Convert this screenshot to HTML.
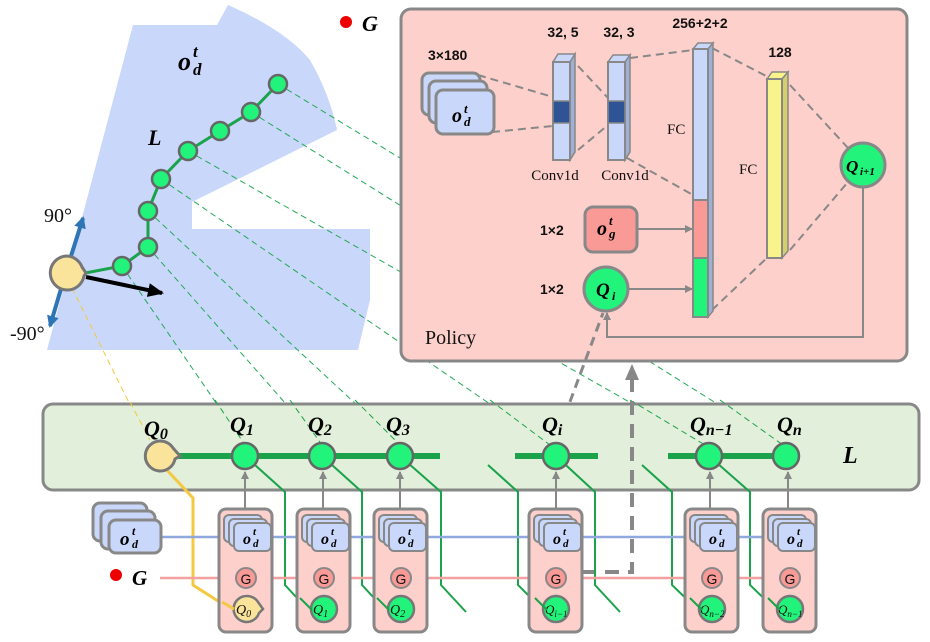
<!DOCTYPE html>
<html><head><meta charset="utf-8"><style>
html,body{margin:0;padding:0;background:#fff;}
svg{display:block;}
.m{font-family:"Liberation Serif",serif;font-style:italic;font-weight:bold;fill:#000;}
.s{font-family:"Liberation Sans",sans-serif;fill:#111;}
.r{font-family:"Liberation Serif",serif;fill:#111;}
</style></head><body>
<svg width="930" height="642" viewBox="0 0 930 642" xmlns="http://www.w3.org/2000/svg">
<defs>
<marker id="ag" markerWidth="8" markerHeight="8" refX="7" refY="4" orient="auto" markerUnits="userSpaceOnUse"><path d="M0,0 L8,4 L0,8 z" fill="#888"/></marker>
<marker id="ab" markerWidth="16" markerHeight="14" refX="14" refY="7" orient="auto" markerUnits="userSpaceOnUse"><path d="M0,0 L16,7 L0,14 z" fill="#000"/></marker>
<marker id="abl" markerWidth="12" markerHeight="12" refX="10" refY="6" orient="auto" markerUnits="userSpaceOnUse"><path d="M0,0 L12,6 L0,12 z" fill="#2e75b6"/></marker>
</defs>

<path d="M133,25 L217,25 L228,5 Q285,30 310,60 Q330,95 337,130 L192,202 L192,229 L370,229 L370,300 L358,350 L47,350 Z" fill="#c9d7fa"/>

<g stroke="#22aa55" stroke-width="1" stroke-dasharray="6,4" fill="none">
<line x1="122" y1="266" x2="245" y2="445"/>
<line x1="148" y1="247" x2="322" y2="445"/>
<line x1="148" y1="211" x2="400" y2="445"/>
<line x1="161" y1="179" x2="550" y2="445"/>
<line x1="188" y1="151" x2="705" y2="445"/>
<line x1="251" y1="112" x2="783" y2="445"/>
<line x1="278" y1="84" x2="700" y2="340"/>
</g>
<line x1="72" y1="288" x2="150" y2="445" stroke="#f5c842" stroke-width="1" stroke-dasharray="6,4"/>

<polyline points="80,274 122,266 148,247 148,211 161,179 188,151 220,131 251,112 278,84" fill="none" stroke="#1aa34a" stroke-width="3"/>
<g fill="#22f37a" stroke="#666" stroke-width="2.5">
<circle cx="122" cy="266" r="9"/><circle cx="148" cy="247" r="9"/><circle cx="148" cy="211" r="9"/><circle cx="161" cy="179" r="9"/><circle cx="188" cy="151" r="9"/><circle cx="220" cy="131" r="9"/><circle cx="251" cy="112" r="9"/><circle cx="278" cy="84" r="9"/>
</g>
<line x1="66" y1="272" x2="83" y2="218" stroke="#2e75b6" stroke-width="4" marker-end="url(#abl)"/>
<line x1="66" y1="272" x2="50" y2="326" stroke="#2e75b6" stroke-width="4" marker-end="url(#abl)"/>
<path d="M66,256 A17,17 0 1 0 84,276 L86,273 L82,267 A17,17 0 0 0 66,256 Z" fill="#fae39a" stroke="#777" stroke-width="3"/>
<line x1="86" y1="277" x2="162" y2="293" stroke="#000" stroke-width="4" marker-end="url(#ab)"/>
<text x="44" y="222" class="r" font-size="20">90°</text>
<text x="10" y="340" class="r" font-size="20">-90°</text>
<text x="178" y="70" class="m" font-size="26">o</text><text x="193" y="57" class="m" font-size="17">t</text><text x="193" y="75" class="m" font-size="17">d</text>
<text x="148" y="145" class="m" font-size="22">L</text>
<circle cx="346" cy="22" r="6" fill="#e00"/>
<text x="362" y="31" class="m" font-size="22">G</text>

<rect x="401" y="9" width="506" height="352" rx="10" fill="#fdd0cb" stroke="#888" stroke-width="3"/>
<g stroke="#888" stroke-width="2" stroke-dasharray="8,5" fill="none">
<line x1="478" y1="75" x2="553" y2="97"/><line x1="492" y1="132" x2="553" y2="126"/>
<line x1="578" y1="66" x2="608" y2="98"/><line x1="578" y1="150" x2="608" y2="125"/>
<line x1="630" y1="58" x2="693" y2="50"/><line x1="627" y1="158" x2="693" y2="195"/>
<line x1="712" y1="48" x2="770" y2="78"/><line x1="712" y1="310" x2="770" y2="255"/>
<line x1="790" y1="85" x2="848" y2="148"/><line x1="790" y1="250" x2="848" y2="182"/>
</g>
<text x="428" y="60" class="s" font-size="14" font-weight="bold" fill="#222">3×180</text>
<rect x="422" y="73" width="58" height="42" rx="7" fill="#c9d7fa" stroke="#888" stroke-width="3"/>
<rect x="429" y="81" width="58" height="42" rx="7" fill="#c9d7fa" stroke="#888" stroke-width="3"/>
<rect x="436" y="90" width="58" height="44" rx="7" fill="#c9d7fa" stroke="#888" stroke-width="3"/>
<text x="452" y="122" class="m" font-size="20">o</text><text x="464" y="113" class="m" font-size="13">t</text><text x="464" y="126" class="m" font-size="13">d</text>
<path d="M553,62 L558,54 L575,54 L570,62 Z" fill="#c9d7fa" stroke="#888" stroke-width="1.5"/>
<path d="M570,62 L575,54 L575,152 L570,160 Z" fill="#9fb0d6" stroke="#888" stroke-width="1.5"/>
<rect x="553" y="62" width="17" height="98" fill="#c9d7fa" stroke="#888" stroke-width="2"/>
<rect x="553" y="101" width="17" height="22" fill="#2f5496" stroke="#888" stroke-width="1.5"/>
<text x="563" y="37" class="s" font-size="14" font-weight="bold" text-anchor="middle">32, 5</text>
<text x="555" y="180" class="r" font-size="15" text-anchor="middle">Conv1d</text>
<path d="M608,62 L613,55 L630,55 L625,62 Z" fill="#c9d7fa" stroke="#888" stroke-width="1.5"/>
<path d="M625,62 L630,55 L630,152 L625,160 Z" fill="#9fb0d6" stroke="#888" stroke-width="1.5"/>
<rect x="608" y="62" width="17" height="98" fill="#c9d7fa" stroke="#888" stroke-width="2"/>
<rect x="608" y="101" width="17" height="22" fill="#2f5496" stroke="#888" stroke-width="1.5"/>
<text x="619" y="37" class="s" font-size="14" font-weight="bold" text-anchor="middle">32, 3</text>
<text x="625" y="180" class="r" font-size="15" text-anchor="middle">Conv1d</text>
<path d="M693,49 L698,43 L713,43 L708,49 Z" fill="#c9d7fa" stroke="#888" stroke-width="1.5"/>
<path d="M708,49 L713,43 L713,311 L708,317 Z" fill="#9fb0d6" stroke="#888" stroke-width="1.5"/>
<rect x="693" y="49" width="15" height="151" fill="#c9d7fa" stroke="#888" stroke-width="2"/>
<rect x="693" y="200" width="15" height="58" fill="#f99a96" stroke="#888" stroke-width="2"/>
<rect x="693" y="258" width="15" height="59" fill="#22f37a" stroke="#888" stroke-width="2"/>
<text x="700" y="28" class="s" font-size="14" font-weight="bold" text-anchor="middle">256+2+2</text>
<text x="667" y="134" class="r" font-size="15">FC</text>
<path d="M767,79 L772,72 L788,72 L782,79 Z" fill="#f8f38a" stroke="#888" stroke-width="1.5"/>
<path d="M782,79 L788,72 L788,251 L782,258 Z" fill="#d4cf6a" stroke="#888" stroke-width="1.5"/>
<rect x="767" y="79" width="15" height="179" fill="#f8f38a" stroke="#888" stroke-width="2"/>
<text x="780" y="57" class="s" font-size="14" font-weight="bold" text-anchor="middle">128</text>
<text x="739" y="174" class="r" font-size="15">FC</text>
<text x="540" y="235" class="s" font-size="14" font-weight="bold">1×2</text>
<rect x="585" y="207" width="52" height="45" rx="8" fill="#f99a96" stroke="#888" stroke-width="3"/>
<text x="597" y="235" class="m" font-size="20">o</text><text x="609" y="225" class="m" font-size="13">t</text><text x="609" y="238" class="m" font-size="13">g</text>
<line x1="637" y1="229" x2="692" y2="229" stroke="#888" stroke-width="2" marker-end="url(#ag)"/>
<text x="540" y="294" class="s" font-size="14" font-weight="bold">1×2</text>
<circle cx="606" cy="289" r="22" fill="#22f37a" stroke="#888" stroke-width="3"/>
<text x="596" y="296" class="m" font-size="19">Q</text><text x="612" y="300" class="m" font-size="12">i</text>
<line x1="628" y1="289" x2="692" y2="289" stroke="#888" stroke-width="2" marker-end="url(#ag)"/>
<circle cx="863" cy="165" r="22" fill="#22f37a" stroke="#888" stroke-width="3"/>
<text x="846" y="172" class="m" font-size="17">Q</text><text x="860" y="175" class="m" font-size="11">i+1</text>
<polyline points="863,187 863,337 607,337 607,313" fill="none" stroke="#888" stroke-width="2" marker-end="url(#ag)"/>
<text x="425" y="344" class="r" font-size="20">Policy</text>

<line x1="549" y1="458" x2="603" y2="313" stroke="#888" stroke-width="3" stroke-dasharray="9,6"/>

<rect x="43" y="404" width="876" height="86" rx="10" fill="#e2efda" stroke="#888" stroke-width="3"/>
<g stroke="#1aa34a" stroke-width="1" stroke-dasharray="6,4"><line x1="215" y1="400" x2="245" y2="445"/><line x1="290" y1="400" x2="322" y2="445"/><line x1="355" y1="400" x2="400" y2="445"/><line x1="490" y1="400" x2="550" y2="445"/><line x1="630" y1="400" x2="705" y2="445"/><line x1="720" y1="400" x2="783" y2="445"/></g>
<line x1="130" y1="402" x2="150" y2="440" stroke="#f5c842" stroke-width="1" stroke-dasharray="6,4"/>
<g stroke="#1aa34a" stroke-width="6"><line x1="175" y1="456" x2="440" y2="456"/><line x1="515" y1="456" x2="598" y2="456"/><line x1="668" y1="456" x2="795" y2="456"/></g>
<polyline points="582,572 632,572 632,380" fill="none" stroke="#888" stroke-width="4" stroke-dasharray="14,9"/>
<path d="M625,380 L632,364 L639,380 Z" fill="#888"/>

<g fill="none" stroke="#1aa34a" stroke-width="2">
<polyline points="245,456 285,492 285,585 310,612"/>
<polyline points="322,456 362,492 362,585 387,612"/>
<polyline points="400,456 441,492 441,585 466,612"/>
<polyline points="488,465 518,492 518,585 545,612"/>
<polyline points="556,456 595,492 595,585 620,612"/>
<polyline points="642,465 672,492 672,585 700,612"/>
<polyline points="709,456 750,492 750,585 778,612"/>
</g>
<polyline points="165,468 193,498 193,585 232,610" fill="none" stroke="#f5c842" stroke-width="3"/>

<line x1="160" y1="537" x2="770" y2="537" stroke="#8fa8de" stroke-width="2.5"/>
<line x1="160" y1="578" x2="770" y2="578" stroke="#f5a0a0" stroke-width="2.5"/>

<path d="M160,441 A15,15 0 1 0 175,459 L180,456 L173,448 A15,15 0 0 0 160,441 Z" fill="#fae39a" stroke="#777" stroke-width="3"/>
<g fill="#22f37a" stroke="#666" stroke-width="2.5">
<circle cx="245" cy="456" r="13"/><circle cx="322" cy="456" r="13"/><circle cx="400" cy="456" r="13"/><circle cx="556" cy="456" r="13"/><circle cx="709" cy="456" r="13"/><circle cx="786" cy="456" r="13"/>
</g>
<g class="m" font-size="22">
<text x="144" y="436">Q<tspan font-size="16" dy="3">0</tspan></text>
<text x="230" y="432">Q<tspan font-size="16" dy="3">1</tspan></text>
<text x="308" y="432">Q<tspan font-size="16" dy="3">2</tspan></text>
<text x="386" y="432">Q<tspan font-size="16" dy="3">3</tspan></text>
<text x="542" y="432">Q<tspan font-size="16" dy="3">i</tspan></text>
<text x="690" y="432">Q<tspan font-size="16" dy="3">n−1</tspan></text>
<text x="777" y="432">Q<tspan font-size="16" dy="3">n</tspan></text>
</g>
<text x="843" y="463" class="m" font-size="24">L</text>

<rect x="93" y="503" width="54" height="38" rx="7" fill="#c9d7fa" stroke="#888" stroke-width="3"/>
<rect x="101" y="511" width="54" height="38" rx="7" fill="#c9d7fa" stroke="#888" stroke-width="3"/>
<rect x="109" y="520" width="52" height="33" rx="7" fill="#c9d7fa" stroke="#888" stroke-width="3"/>
<text x="120" y="545" class="m" font-size="19">o</text><text x="132" y="535" class="m" font-size="12">t</text><text x="132" y="548" class="m" font-size="12">d</text>
<circle cx="116" cy="575" r="6" fill="#e00"/>
<text x="132" y="585" class="m" font-size="21">G</text>

<g stroke="#888" stroke-width="2" fill="none">
<line x1="245" y1="509" x2="245" y2="472" marker-end="url(#ag)"/>
<line x1="323" y1="509" x2="323" y2="472" marker-end="url(#ag)"/>
<line x1="400" y1="509" x2="400" y2="472" marker-end="url(#ag)"/>
<line x1="556" y1="509" x2="556" y2="472" marker-end="url(#ag)"/>
<line x1="710" y1="509" x2="710" y2="472" marker-end="url(#ag)"/>
<line x1="788" y1="509" x2="788" y2="472" marker-end="url(#ag)"/>
</g>

<rect x="219" y="509" width="53" height="123" rx="7" fill="#fdd0cb" stroke="#888" stroke-width="3"/>
<rect x="224" y="515" width="38" height="27" rx="5" fill="#c9d7fa" stroke="#888" stroke-width="2"/>
<rect x="229" y="519" width="38" height="27" rx="5" fill="#c9d7fa" stroke="#888" stroke-width="2"/>
<rect x="234" y="523" width="37" height="28" rx="5" fill="#c9d7fa" stroke="#888" stroke-width="2"/>
<text x="243" y="544" class="m" font-size="16">o</text><text x="253" y="535" class="m" font-size="11">t</text><text x="253" y="547" class="m" font-size="11">d</text>
<circle cx="246" cy="578" r="10" fill="#f99a96" stroke="#888" stroke-width="2"/><text x="246" y="584" class="s" font-size="14" text-anchor="middle">G</text>
<path d="M246,596 A13,13 0 1 0 259,613 L263,609 L258,602 A13,13 0 0 0 246,596 Z" fill="#fae39a" stroke="#777" stroke-width="2.5"/>
<text x="236" y="614" class="r" font-style="italic" font-size="14">Q<tspan font-size="10" dy="3">0</tspan></text>

<rect x="297" y="509" width="53" height="123" rx="7" fill="#fdd0cb" stroke="#888" stroke-width="3"/>
<rect x="302" y="515" width="38" height="27" rx="5" fill="#c9d7fa" stroke="#888" stroke-width="2"/>
<rect x="307" y="519" width="38" height="27" rx="5" fill="#c9d7fa" stroke="#888" stroke-width="2"/>
<rect x="312" y="523" width="37" height="28" rx="5" fill="#c9d7fa" stroke="#888" stroke-width="2"/>
<text x="321" y="544" class="m" font-size="16">o</text><text x="331" y="535" class="m" font-size="11">t</text><text x="331" y="547" class="m" font-size="11">d</text>
<circle cx="324" cy="578" r="10" fill="#f99a96" stroke="#888" stroke-width="2"/><text x="324" y="584" class="s" font-size="14" text-anchor="middle">G</text>
<circle cx="324" cy="609" r="13" fill="#22f37a" stroke="#777" stroke-width="2.5"/>
<text x="313" y="614" class="r" font-style="italic" font-size="14">Q<tspan font-size="10" dy="3">1</tspan></text>

<rect x="374" y="509" width="53" height="123" rx="7" fill="#fdd0cb" stroke="#888" stroke-width="3"/>
<rect x="379" y="515" width="38" height="27" rx="5" fill="#c9d7fa" stroke="#888" stroke-width="2"/>
<rect x="384" y="519" width="38" height="27" rx="5" fill="#c9d7fa" stroke="#888" stroke-width="2"/>
<rect x="389" y="523" width="37" height="28" rx="5" fill="#c9d7fa" stroke="#888" stroke-width="2"/>
<text x="398" y="544" class="m" font-size="16">o</text><text x="408" y="535" class="m" font-size="11">t</text><text x="408" y="547" class="m" font-size="11">d</text>
<circle cx="401" cy="578" r="10" fill="#f99a96" stroke="#888" stroke-width="2"/><text x="401" y="584" class="s" font-size="14" text-anchor="middle">G</text>
<circle cx="401" cy="609" r="13" fill="#22f37a" stroke="#777" stroke-width="2.5"/>
<text x="390" y="614" class="r" font-style="italic" font-size="14">Q<tspan font-size="10" dy="3">2</tspan></text>

<rect x="529" y="509" width="53" height="123" rx="7" fill="#fdd0cb" stroke="#888" stroke-width="3"/>
<rect x="534" y="515" width="38" height="27" rx="5" fill="#c9d7fa" stroke="#888" stroke-width="2"/>
<rect x="539" y="519" width="38" height="27" rx="5" fill="#c9d7fa" stroke="#888" stroke-width="2"/>
<rect x="544" y="523" width="37" height="28" rx="5" fill="#c9d7fa" stroke="#888" stroke-width="2"/>
<text x="553" y="544" class="m" font-size="16">o</text><text x="563" y="535" class="m" font-size="11">t</text><text x="563" y="547" class="m" font-size="11">d</text>
<circle cx="556" cy="578" r="10" fill="#f99a96" stroke="#888" stroke-width="2"/><text x="556" y="584" class="s" font-size="14" text-anchor="middle">G</text>
<circle cx="556" cy="609" r="13" fill="#22f37a" stroke="#777" stroke-width="2.5"/>
<text x="545" y="614" class="r" font-style="italic" font-size="13">Q<tspan font-size="9" dy="3">i−1</tspan></text>

<rect x="685" y="509" width="53" height="123" rx="7" fill="#fdd0cb" stroke="#888" stroke-width="3"/>
<rect x="690" y="515" width="38" height="27" rx="5" fill="#c9d7fa" stroke="#888" stroke-width="2"/>
<rect x="695" y="519" width="38" height="27" rx="5" fill="#c9d7fa" stroke="#888" stroke-width="2"/>
<rect x="700" y="523" width="37" height="28" rx="5" fill="#c9d7fa" stroke="#888" stroke-width="2"/>
<text x="709" y="544" class="m" font-size="16">o</text><text x="719" y="535" class="m" font-size="11">t</text><text x="719" y="547" class="m" font-size="11">d</text>
<circle cx="712" cy="578" r="10" fill="#f99a96" stroke="#888" stroke-width="2"/><text x="712" y="584" class="s" font-size="14" text-anchor="middle">G</text>
<circle cx="712" cy="609" r="13" fill="#22f37a" stroke="#777" stroke-width="2.5"/>
<text x="700" y="614" class="r" font-style="italic" font-size="13">Q<tspan font-size="9" dy="3">n−2</tspan></text>

<rect x="763" y="509" width="53" height="123" rx="7" fill="#fdd0cb" stroke="#888" stroke-width="3"/>
<rect x="768" y="515" width="38" height="27" rx="5" fill="#c9d7fa" stroke="#888" stroke-width="2"/>
<rect x="773" y="519" width="38" height="27" rx="5" fill="#c9d7fa" stroke="#888" stroke-width="2"/>
<rect x="778" y="523" width="37" height="28" rx="5" fill="#c9d7fa" stroke="#888" stroke-width="2"/>
<text x="787" y="544" class="m" font-size="16">o</text><text x="797" y="535" class="m" font-size="11">t</text><text x="797" y="547" class="m" font-size="11">d</text>
<circle cx="790" cy="578" r="10" fill="#f99a96" stroke="#888" stroke-width="2"/><text x="790" y="584" class="s" font-size="14" text-anchor="middle">G</text>
<circle cx="790" cy="609" r="13" fill="#22f37a" stroke="#777" stroke-width="2.5"/>
<text x="778" y="614" class="r" font-style="italic" font-size="13">Q<tspan font-size="9" dy="3">n−1</tspan></text>

<g fill="none" stroke="#1aa34a" stroke-width="2">
<line x1="300" y1="598" x2="312" y2="610"/><line x1="377" y1="598" x2="389" y2="610"/><line x1="535" y1="598" x2="547" y2="610"/><line x1="690" y1="598" x2="702" y2="610"/><line x1="768" y1="598" x2="780" y2="610"/>
</g>
<line x1="222" y1="602" x2="234" y2="609" stroke="#f5c842" stroke-width="3"/>
</svg>
</body></html>
